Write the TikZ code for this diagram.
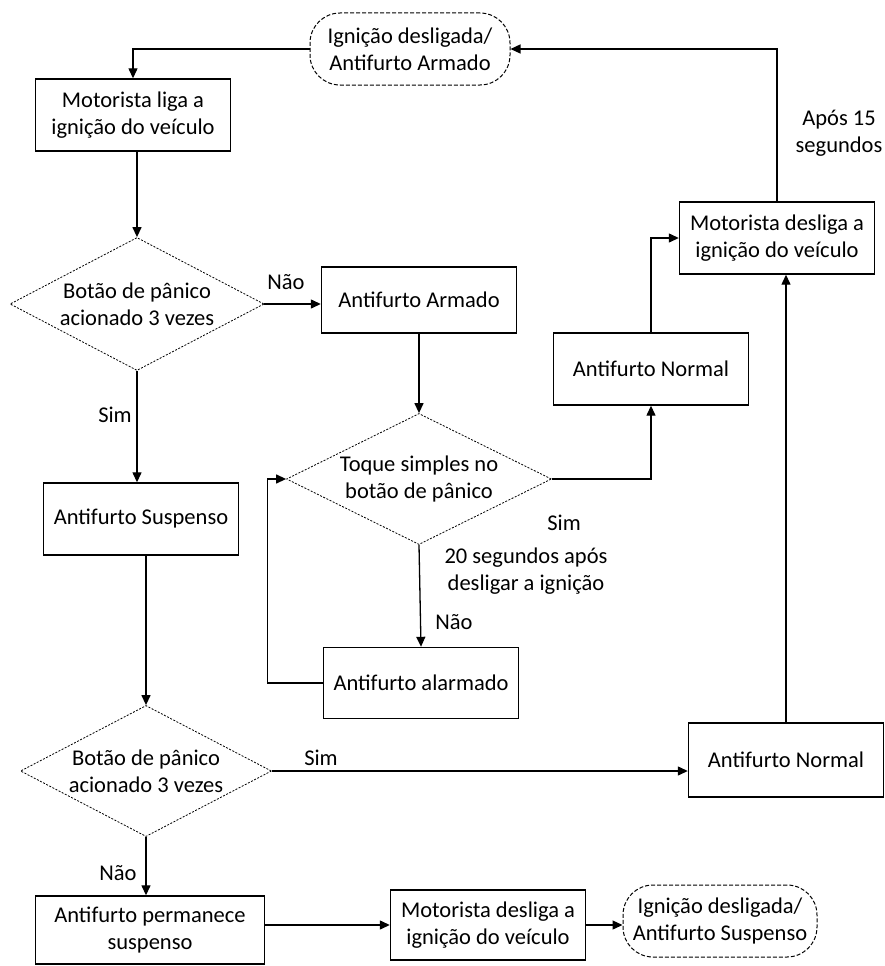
\documentclass[tikz,border=0pt]{standalone}
\usepackage{fontspec}
\setmainfont{Carlito}
\usepackage{tikz}
\usetikzlibrary{shapes, shapes.geometric, arrows.meta, positioning, calc}

\tikzset{
  procbox/.style={draw, line width=1.4pt, minimum width=195pt, minimum height=72pt, align=center, inner sep=4pt},
  decbox/.style={draw, diamond, aspect=2, line width=0.8pt, dash pattern=on 2pt off 1.5pt, align=center, inner sep=0pt},
  termbox/.style={draw, line width=1pt, dash pattern=on 4pt off 2pt, rounded corners=30pt, minimum width=200pt, minimum height=72pt, align=center, inner sep=2pt},
  arr/.style={-{Triangle[length=10pt, width=9pt]}, line width=1.3pt},
  lbl/.style={inner sep=1pt, align=center}
}

\begin{document}
\begin{tikzpicture}[x=1pt, y=-1pt, font=\fontsize{22.5}{27}\selectfont]
  \useasboundingbox (0,0) rectangle (885,966);

  % Main flow, left column
  \node[termbox] (termA) at (410,49) {Ignição desligada/\\Antifurto Armado};
  \node[procbox] (ligar) at (133,115) {Motorista liga a\\ignição do veículo};
  \node[decbox, minimum width=254pt, minimum height=133pt] (panico1) at (137,304) {Botão de pânico\\acionado 3 vezes};
  \node[procbox] (suspenso) at (141,519) {Antifurto Suspenso};
  \node[decbox, minimum width=251pt, minimum height=131pt] (panico2) at (146,771) {Botão de pânico\\acionado 3 vezes};
  \node[procbox, minimum width=229pt, minimum height=68pt] (permanece) at (150,930) {Antifurto permanece\\suspenso};
  \node[procbox, minimum height=70pt] (desligaB) at (488,925) {Motorista desliga a\\ignição do veículo};
  \node[termbox, minimum width=194pt] (termB) at (720,921) {Ignição desligada/\\Antifurto Suspenso};

  % Armed branch
  \node[procbox, minimum height=66pt] (armado) at (419,300) {Antifurto Armado};
  \node[decbox, minimum width=265pt, minimum height=131pt] (toque) at (419,479) {Toque simples no\\botão de pânico};
  \node[procbox, minimum height=71pt] (alarmado) at (421,683) {Antifurto alarmado};
  \node[procbox] (normalA) at (651,369) {Antifurto Normal};
  \node[procbox] (desligaA) at (777,238) {Motorista desliga a\\ignição do veículo};
  \node[procbox, minimum height=74pt] (normalB) at (786,760) {Antifurto Normal};

  % Labels
  \node[lbl] (naoA) at (286,282) {Não};
  \node[lbl] (simA) at (115,415) {Sim};
  \node[lbl] (simB) at (564,523) {Sim};
  \node[lbl] (vinte) at (526,571) {20 segundos após\\desligar a ignição};
  \node[lbl] (naoB) at (454,622) {Não};
  \node[lbl] (apos) at (839,133) {Após 15\\segundos};
  \node[lbl] (simC) at (321,758) {Sim};
  \node[lbl] (naoC) at (118,873) {Não};

  % Connectors
  \draw[arr] (termA.west) -| (ligar.north);
  \draw[arr] (ligar.south -| panico1.north) -- (panico1.north);
  \draw[arr] (panico1.east) -- (panico1.east -| armado.west);
  \draw[arr] (panico1.south) -- (panico1.south |- suspenso.north);
  \draw[arr] (armado.south) -- (toque.north);
  \draw[arr] (toque.east) -| (normalA.south);
  \draw[arr] (normalA.north) |- (desligaA.west);
  \draw[arr] (desligaA.north) |- (termA.east);
  \draw[arr] (toque.south) -- (alarmado.north);
  \draw[arr] (alarmado.west) -- ++(-55,0) |- (toque.west);
  \draw[arr] (suspenso.south -| panico2.north) -- (panico2.north);
  \draw[arr] (panico2.east) -- (panico2.east -| normalB.west);
  \draw[arr] (normalB.north) -- (normalB.north |- desligaA.south);
  \draw[arr] (panico2.south) -- (panico2.south |- permanece.north);
  \draw[arr] (desligaB.west -| permanece.east) -- (desligaB.west);
  \draw[arr] (desligaB.east) -- (desligaB.east -| termB.west);
\end{tikzpicture}
\end{document}
